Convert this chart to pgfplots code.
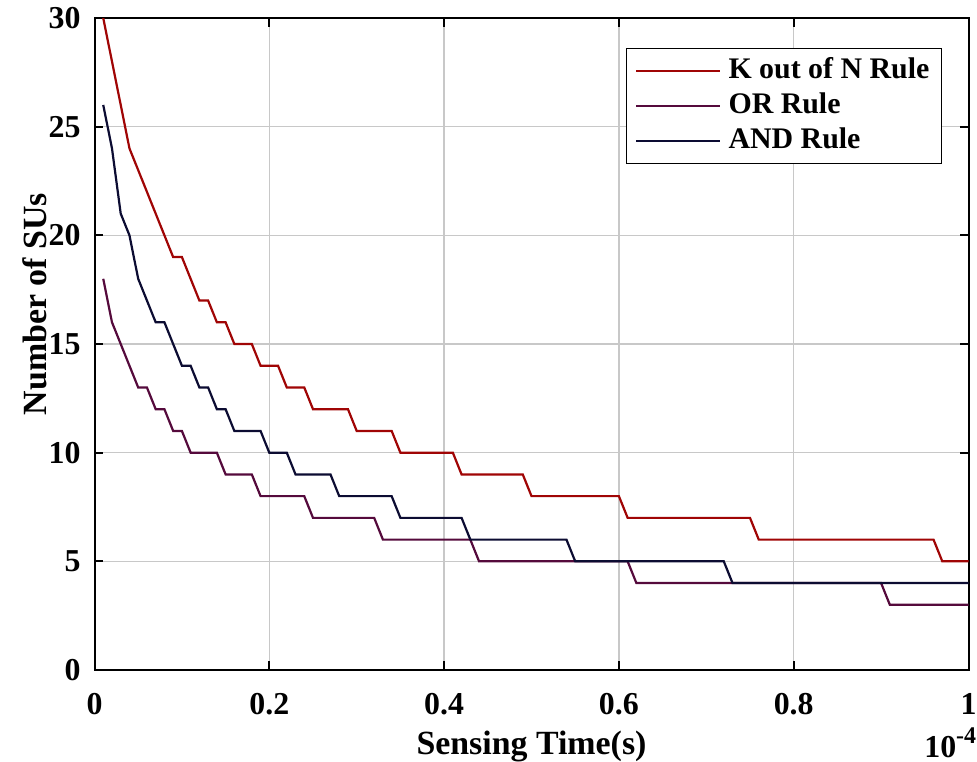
\documentclass[border=0pt]{standalone}
\usepackage{pgfplots}
\pgfplotsset{compat=1.18}
\usepackage{fontspec}
\setmainfont{Liberation Serif}
\definecolor{kcol}{RGB}{160,5,5}
\definecolor{orcol}{RGB}{85,10,60}
\definecolor{andcol}{RGB}{12,12,50}
\definecolor{gridc}{RGB}{200,200,200}
\begin{document}
\begin{tikzpicture}
\begin{axis}[
  scale only axis, width=437bp, height=326bp,
  xmin=0, xmax=1, ymin=0, ymax=30,
  xtick={0,0.2,0.4,0.6,0.8,1}, xticklabels={0,0.2,0.4,0.6,0.8,1},
  ytick={0,5,10,15,20,25,30},
  tick align=inside, major tick length=4.5bp,
  axis line style={black, line width=1bp},
  every tick/.style={black, line width=1bp},
  grid=major, major grid style={gridc, line width=0.75bp},
  /pgf/number format/assume math mode=true,
  tick label style={font=\bfseries\fontsize{16}{16}\selectfont},
  xticklabel style={yshift=-8bp},
  yticklabel style={xshift=-3.5bp},
  xlabel={\bfseries\fontsize{17}{17}\selectfont Sensing Time(s)},
  ylabel={\bfseries\fontsize{17}{17}\selectfont Number of SUs},
  xlabel style={at={(rel axis cs:0.5,0)}, anchor=north, yshift=-27bp},
  ylabel style={at={(rel axis cs:0,0.561)}, anchor=base, rotate=0, yshift=24bp},
  legend style={at={(rel axis cs:0.9697,0.954)}, anchor=north east, draw=black, line width=0.6bp,
    font=\bfseries\fontsize{15}{15}\selectfont, inner xsep=4.5bp, inner ysep=2.5bp,
    nodes={text height=11bp, text depth=3.5bp, inner sep=1.5bp}},
  legend cell align=left,
  legend image code/.code={\draw[#1, line width=1bp] (0bp,0bp) -- (42bp,0bp); \path (44bp,0bp);},
]
\addplot[kcol, line width=1.1bp] coordinates {
(0.01,30)(0.02,28)(0.03,26)(0.04,24)(0.05,23)(0.06,22)(0.07,21)(0.08,20)(0.09,19)(0.10,19)
(0.11,18)(0.12,17)(0.13,17)(0.14,16)(0.15,16)(0.16,15)(0.17,15)(0.18,15)(0.19,14)(0.20,14)
(0.21,14)(0.22,13)(0.23,13)(0.24,13)(0.25,12)(0.26,12)(0.27,12)(0.28,12)(0.29,12)(0.30,11)
(0.31,11)(0.32,11)(0.33,11)(0.34,11)(0.35,10)(0.36,10)(0.37,10)(0.38,10)(0.39,10)(0.40,10)
(0.41,10)(0.42,9)(0.43,9)(0.44,9)(0.45,9)(0.46,9)(0.47,9)(0.48,9)(0.49,9)(0.50,8)
(0.51,8)(0.52,8)(0.53,8)(0.54,8)(0.55,8)(0.56,8)(0.57,8)(0.58,8)(0.59,8)(0.60,8)
(0.61,7)(0.62,7)(0.63,7)(0.64,7)(0.65,7)(0.66,7)(0.67,7)(0.68,7)(0.69,7)(0.70,7)
(0.71,7)(0.72,7)(0.73,7)(0.74,7)(0.75,7)(0.76,6)(0.77,6)(0.78,6)(0.79,6)(0.80,6)
(0.81,6)(0.82,6)(0.83,6)(0.84,6)(0.85,6)(0.86,6)(0.87,6)(0.88,6)(0.89,6)(0.90,6)
(0.91,6)(0.92,6)(0.93,6)(0.94,6)(0.95,6)(0.96,6)(0.97,5)(0.98,5)(0.99,5)(1.00,5)
};
\addlegendentry{K out of N Rule}
\addplot[orcol, line width=1.1bp] coordinates {
(0.01,18)(0.02,16)(0.03,15)(0.04,14)(0.05,13)(0.06,13)(0.07,12)(0.08,12)(0.09,11)(0.10,11)
(0.11,10)(0.12,10)(0.13,10)(0.14,10)(0.15,9)(0.16,9)(0.17,9)(0.18,9)(0.19,8)(0.20,8)
(0.21,8)(0.22,8)(0.23,8)(0.24,8)(0.25,7)(0.26,7)(0.27,7)(0.28,7)(0.29,7)(0.30,7)
(0.31,7)(0.32,7)(0.33,6)(0.34,6)(0.35,6)(0.36,6)(0.37,6)(0.38,6)(0.39,6)(0.40,6)
(0.41,6)(0.42,6)(0.43,6)(0.44,5)(0.45,5)(0.46,5)(0.47,5)(0.48,5)(0.49,5)(0.50,5)
(0.51,5)(0.52,5)(0.53,5)(0.54,5)(0.55,5)(0.56,5)(0.57,5)(0.58,5)(0.59,5)(0.60,5)
(0.61,5)(0.62,4)(0.63,4)(0.64,4)(0.65,4)(0.66,4)(0.67,4)(0.68,4)(0.69,4)(0.70,4)
(0.71,4)(0.72,4)(0.73,4)(0.74,4)(0.75,4)(0.76,4)(0.77,4)(0.78,4)(0.79,4)(0.80,4)
(0.81,4)(0.82,4)(0.83,4)(0.84,4)(0.85,4)(0.86,4)(0.87,4)(0.88,4)(0.89,4)(0.90,4)
(0.91,3)(0.92,3)(0.93,3)(0.94,3)(0.95,3)(0.96,3)(0.97,3)(0.98,3)(0.99,3)(1.00,3)
};
\addlegendentry{OR Rule}
\addplot[andcol, line width=1.1bp] coordinates {
(0.01,26)(0.02,24)(0.03,21)(0.04,20)(0.05,18)(0.06,17)(0.07,16)(0.08,16)(0.09,15)(0.10,14)
(0.11,14)(0.12,13)(0.13,13)(0.14,12)(0.15,12)(0.16,11)(0.17,11)(0.18,11)(0.19,11)(0.20,10)
(0.21,10)(0.22,10)(0.23,9)(0.24,9)(0.25,9)(0.26,9)(0.27,9)(0.28,8)(0.29,8)(0.30,8)
(0.31,8)(0.32,8)(0.33,8)(0.34,8)(0.35,7)(0.36,7)(0.37,7)(0.38,7)(0.39,7)(0.40,7)
(0.41,7)(0.42,7)(0.43,6)(0.44,6)(0.45,6)(0.46,6)(0.47,6)(0.48,6)(0.49,6)(0.50,6)
(0.51,6)(0.52,6)(0.53,6)(0.54,6)(0.55,5)(0.56,5)(0.57,5)(0.58,5)(0.59,5)(0.60,5)
(0.61,5)(0.62,5)(0.63,5)(0.64,5)(0.65,5)(0.66,5)(0.67,5)(0.68,5)(0.69,5)(0.70,5)
(0.71,5)(0.72,5)(0.73,4)(0.74,4)(0.75,4)(0.76,4)(0.77,4)(0.78,4)(0.79,4)(0.80,4)
(0.81,4)(0.82,4)(0.83,4)(0.84,4)(0.85,4)(0.86,4)(0.87,4)(0.88,4)(0.89,4)(0.90,4)
(0.91,4)(0.92,4)(0.93,4)(0.94,4)(0.95,4)(0.96,4)(0.97,4)(0.98,4)(0.99,4)(1.00,4)
};
\addlegendentry{AND Rule}
\coordinate (SW) at (rel axis cs:0,0);
\coordinate (NE) at (rel axis cs:1,1);
\coordinate (SE) at (rel axis cs:1,0);
\end{axis}
\node[anchor=base east, font=\bfseries\fontsize{16}{16}\selectfont, inner sep=0pt]
  at ([xshift=4bp,yshift=-43.5bp]SE) {10\raisebox{7bp}{\fontsize{12}{12}\selectfont -4}};
\pgfresetboundingbox
\path[use as bounding box] ([xshift=-47.25bp,yshift=-46bp]SW) rectangle ([xshift=4.25bp,yshift=9bp]NE);
\end{tikzpicture}
\end{document}
